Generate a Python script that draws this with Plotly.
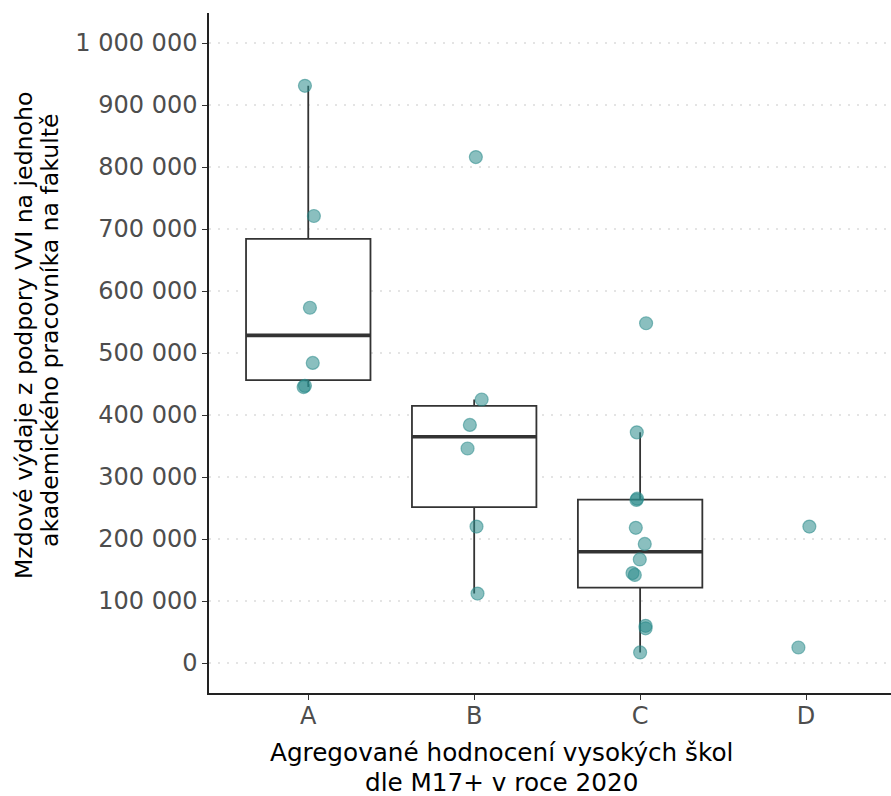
import numpy as np
import plotly.graph_objects as go

# ---- data ----
categories = ["A", "B", "C", "D"]
values_A = [931000, 721000, 573000, 484000, 447000, 445000]
values_B = [816000, 425000, 384000, 346000, 220000, 112000]
values_C = [548000, 372000, 265000, 263000, 218000, 192000, 167000, 145000, 142000, 60000, 56000, 17000]
values_D = [220000, 25000]
# horizontal jitter of each point (category units), as seen in the picture
jitter_A = [-0.020, 0.034, 0.010, 0.027, -0.020, -0.028]
jitter_B = [0.010, 0.045, -0.026, -0.040, 0.014, 0.020]
jitter_C = [0.036, -0.020, -0.018, -0.022, -0.026, 0.028, -0.002, -0.046, -0.032, 0.033, 0.033, 0.000]
jitter_D = [0.020, -0.046]
boxed = ["A", "B", "C"]  # D is shown as points only
y_ticks = [0, 100000, 200000, 300000, 400000, 500000, 600000, 700000, 800000, 900000, 1000000]

x_title_lines = ["Agregované hodnocení vysokých škol", "dle M17+ v roce 2020"]
y_title_lines = ["Mzdové výdaje z podpory VVI na jednoho", "akademického pracovníka na fakultě"]

values = {"A": values_A, "B": values_B, "C": values_C, "D": values_D}
jitters = {"A": jitter_A, "B": jitter_B, "C": jitter_C, "D": jitter_D}

FONT = "DejaVu Sans"
BOX_LINE = "#333333"
POINT = "rgba(42,138,138,0.55)"
BOX_W = 0.75

fig = go.Figure()

for i, cat in enumerate(categories, start=1):
    if cat not in boxed:
        continue
    v = np.array(values[cat], dtype=float)
    q1, med, q3 = np.percentile(v, [25, 50, 75])
    iqr = q3 - q1
    lo = v[v >= q1 - 1.5 * iqr].min()
    hi = v[v <= q3 + 1.5 * iqr].max()
    fig.add_trace(go.Box(
        x=[i], q1=[q1], median=[med], q3=[q3], lowerfence=[lo], upperfence=[hi],
        width=BOX_W, whiskerwidth=0, fillcolor="white",
        line=dict(color=BOX_LINE, width=1.8), boxpoints=False,
        showlegend=False, hoverinfo="skip",
    ))
    # thicker median line (ggplot style)
    fig.add_trace(go.Scatter(
        x=[i - BOX_W / 2, i + BOX_W / 2], y=[med, med], mode="lines",
        line=dict(color=BOX_LINE, width=3.6), showlegend=False, hoverinfo="skip",
    ))

for i, cat in enumerate(categories, start=1):
    fig.add_trace(go.Scatter(
        x=[i + j for j in jitters[cat]], y=values[cat], mode="markers",
        marker=dict(size=13, color=POINT, line=dict(color=POINT, width=1.2)),
        showlegend=False, hoverinfo="y",
    ))

fig.update_layout(
    width=891, height=796,
    margin=dict(l=209, r=0, t=13, b=103),
    paper_bgcolor="white", plot_bgcolor="white",
    separators=", ",
    font=dict(family=FONT, color="#4d4d4d"),
    xaxis=dict(
        range=[0.4018, 4.512], tickvals=[1, 2, 3, 4], ticktext=categories,
        showline=True, linecolor="#222222", linewidth=1.5,
        ticks="outside", ticklen=5, tickcolor="#333333", tickwidth=1,
        ticklabelstandoff=-5,
        showgrid=False, zeroline=False,
        tickfont=dict(family=FONT, size=24, color="#4d4d4d"),
    ),
    yaxis=dict(
        range=[-48387, 1048387], tickvals=y_ticks, tickformat=",d",
        showline=True, linecolor="#222222", linewidth=1.5,
        ticks="outside", ticklen=5, tickcolor="#333333", tickwidth=1,
        showgrid=True, gridcolor="#e4e4e4", gridwidth=1.5, griddash="2px,7px",
        zeroline=False,
        tickfont=dict(family=FONT, size=24, color="#4d4d4d"),
    ),
)

# axis titles as separate lines (to control line spacing)
fig.add_annotation(text=x_title_lines[0], xref="paper", yref="paper",
                   x=(501 - 209) / 682, y=-(753 - 693) / 680, xanchor="center", yanchor="middle",
                   showarrow=False, font=dict(family=FONT, size=24.7, color="black"))
fig.add_annotation(text=x_title_lines[1], xref="paper", yref="paper",
                   x=(501 - 209) / 682, y=-(782 - 693) / 680, xanchor="center", yanchor="middle",
                   showarrow=False, font=dict(family=FONT, size=24.7, color="black"))
fig.add_annotation(text=y_title_lines[0], xref="paper", yref="paper",
                   x=-(209 - 24) / 682, y=(693 - 336) / 680, xanchor="center", yanchor="middle",
                   textangle=-90, showarrow=False, font=dict(family=FONT, size=23.6, color="black"))
fig.add_annotation(text=y_title_lines[1], xref="paper", yref="paper",
                   x=-(209 - 50) / 682, y=(693 - 330) / 680, xanchor="center", yanchor="middle",
                   textangle=-90, showarrow=False, font=dict(family=FONT, size=23.6, color="black"))

fig.write_html("out.html")
